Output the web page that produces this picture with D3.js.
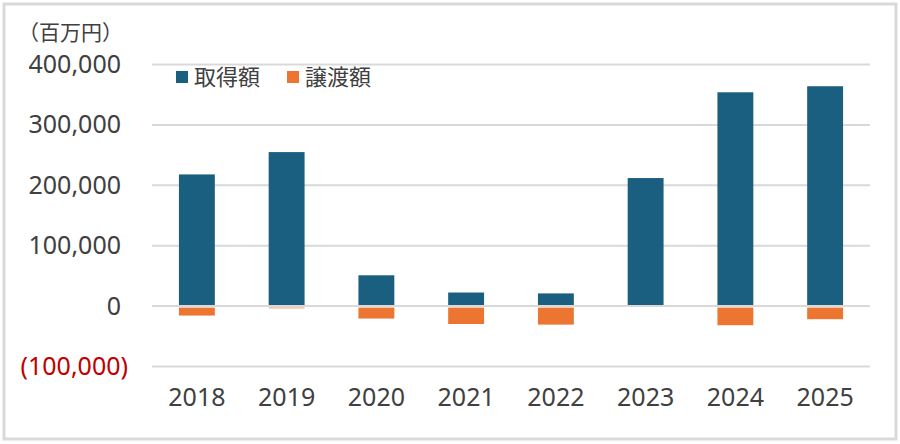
<!DOCTYPE html>
<html>
<head>
<meta charset="utf-8">
<script src="https://cdn.jsdelivr.net/npm/d3@7"></script>
<style>
  body { margin: 0; background: #fff; }
  svg text { font-family: "Noto Sans", "Noto Sans CJK JP", sans-serif; fill: #404040; }
  .jp { font-family: "Noto Sans CJK JP", sans-serif; }
</style>
</head>
<body>
<div id="chart"></div>
<script>
(function () {
  const years = ['2018', '2019', '2020', '2021', '2022', '2023', '2024', '2025'];
  // 取得額 / 譲渡額 (百万円)
  const acquisition = [218000, 255000, 51000, 22500, 21000, 212000, 354000, 364000];
  const transfer = [-14000, -2000, -19000, -28000, -29000, 0, -30000, -20000];
  const yTicks = [-100000, 0, 100000, 200000, 300000, 400000];
  const seriesNames = ['取得額', '譲渡額'];
  const colors = ['#1a5e80', '#ec7631'];

  const width = 900, height = 444;
  const plot = {left: 152, right: 870, top: 64.5, bottom: 366.5};

  const svg = d3.select('#chart').append('svg')
    .attr('width', width)
    .attr('height', height);

  // outer frame
  svg.append('rect')
    .attr('x', 4).attr('y', 4)
    .attr('width', 892).attr('height', 435)
    .attr('fill', '#fff')
    .attr('stroke', '#d9d9d9')
    .attr('stroke-width', 3);

  const x = d3.scaleBand()
    .domain(years)
    .range([plot.left, plot.right])
    .paddingInner(0.6)
    .paddingOuter(0.3);

  const y = d3.scaleLinear()
    .domain([-100000, 400000])
    .range([plot.bottom, plot.top]);

  const fmt = d3.format(',');

  // gridlines
  svg.append('g')
    .selectAll('line')
    .data(yTicks.filter(d => d !== 0))
    .join('line')
    .attr('x1', plot.left).attr('x2', plot.right)
    .attr('y1', d => y(d)).attr('y2', d => y(d))
    .attr('stroke', '#d9d9d9')
    .attr('stroke-width', 2);

  // y axis labels
  const yAxis = svg.append('g')
    .attr('transform', 'translate(121,0)')
    .call(d3.axisLeft(y).tickValues(yTicks).tickSize(0).tickPadding(0)
      .tickFormat(d => d < 0 ? '(' + fmt(-d) + ')' : fmt(d)));
  yAxis.select('.domain').remove();
  yAxis.selectAll('text')
    .attr('font-size', 25)
    .style('font-family', '"Noto Sans", sans-serif')
    .attr('dx', d => d < 0 ? 7 : 0)
    .style('fill', d => d < 0 ? '#c00000' : '#404040');

  // x axis labels
  const xAxis = svg.append('g')
    .attr('transform', 'translate(0,' + 388 + ')')
    .call(d3.axisBottom(x).tickSize(0).tickPadding(0));
  xAxis.select('.domain').remove();
  xAxis.selectAll('text')
    .attr('font-size', 25)
    .attr('dy', '0.71em')
    .style('font-family', '"Noto Sans", sans-serif');

  // bars
  svg.append('g')
    .selectAll('rect')
    .data(acquisition)
    .join('rect')
    .attr('x', (d, i) => x(years[i]))
    .attr('width', x.bandwidth())
    .attr('y', d => y(d))
    .attr('height', d => y(0) - y(d))
    .attr('fill', colors[0]);

  svg.append('g')
    .selectAll('rect')
    .data(transfer)
    .join('rect')
    .attr('x', (d, i) => x(years[i]))
    .attr('width', x.bandwidth())
    .attr('y', y(0) + 1.5)
    .attr('height', d => Math.max(0, y(d) - y(0) - 0.5))
    .attr('fill', colors[1]);

  // zero line on top
  svg.append('line')
    .attr('x1', plot.left).attr('x2', plot.right)
    .attr('y1', y(0)).attr('y2', y(0))
    .attr('stroke', '#d9d9d9')
    .attr('stroke-width', 2);

  // unit label
  svg.append('text')
    .attr('class', 'jp')
    .attr('x', 18).attr('y', 40)
    .attr('font-size', 21)
    .text('（百万円）');

  // legend
  const legendX = [176, 287];
  const legend = svg.append('g')
    .selectAll('g')
    .data(seriesNames)
    .join('g')
    .attr('transform', (d, i) => 'translate(' + legendX[i] + ',71)');
  legend.append('rect')
    .attr('width', 12).attr('height', 12)
    .attr('fill', (d, i) => colors[i]);
  legend.append('text')
    .attr('class', 'jp')
    .attr('x', 18).attr('y', 6)
    .attr('dy', '0.36em')
    .attr('font-size', 22)
    .text(d => d);
})();
</script>
</body>
</html>
